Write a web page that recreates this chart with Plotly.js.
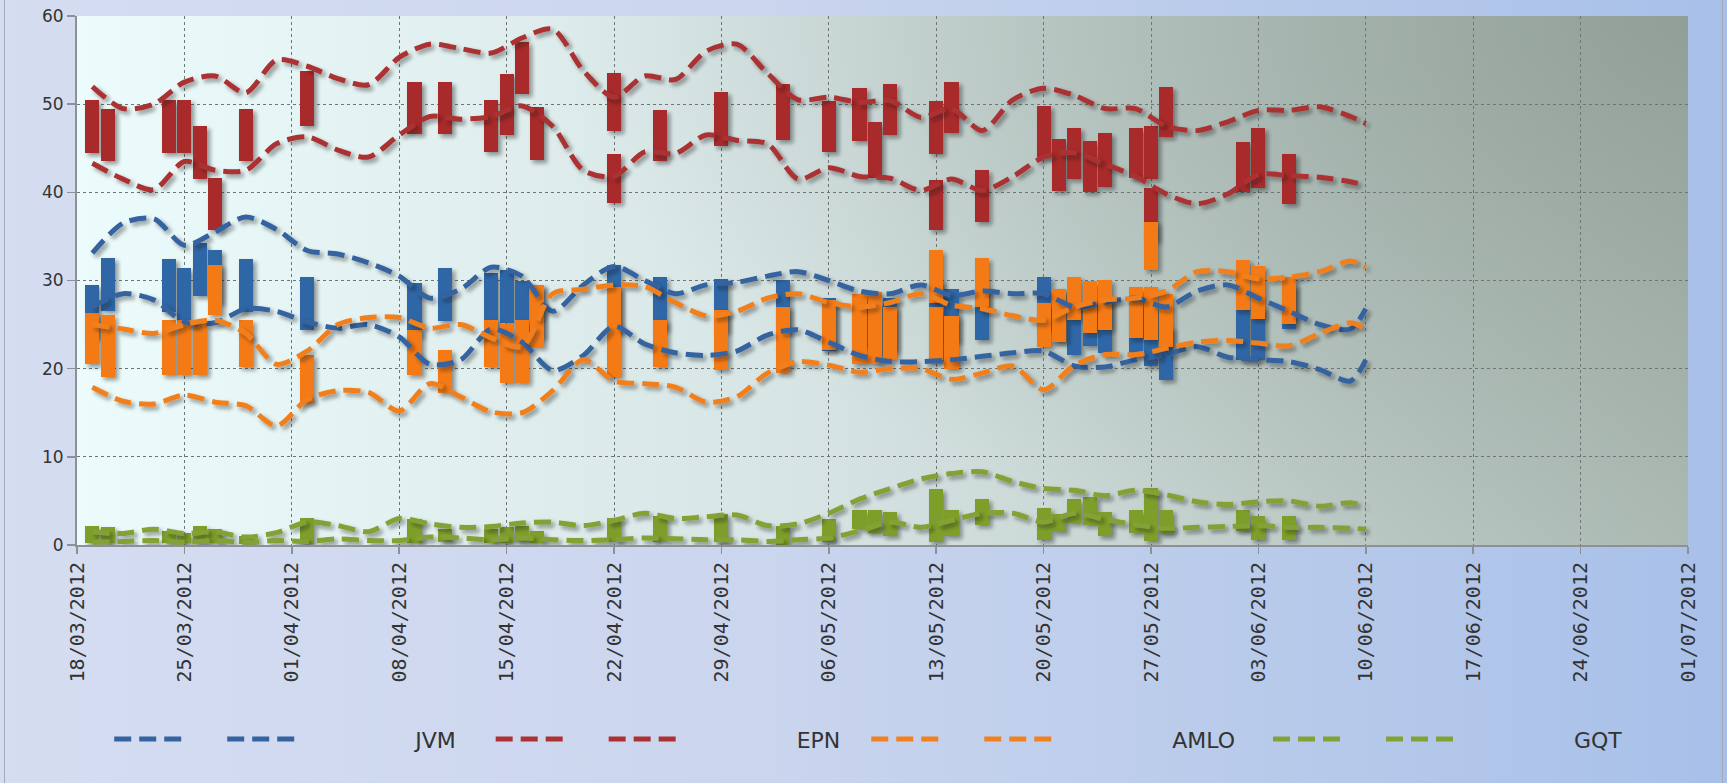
<!DOCTYPE html>
<html>
<head>
<meta charset="utf-8">
<script src="https://cdn.plot.ly/plotly-3.0.1.min.js"></script>
<style>
  html, body { margin: 0; padding: 0; }
  #wrap { position: relative; width: 1727px; height: 783px; overflow: hidden;
    background: linear-gradient(to right, #d5ddf1 0%, #cad5ee 45%, #b4c8ea 80%, #a8c0e9 100%); }
  #frame { position: absolute; left: 4px; top: 0; width: 1717px; height: 783px;
    border-left: 1px solid #a3abba; border-right: 1px solid #a3abba; }
  #pa { position: absolute; left: 77px; top: 16px; width: 1611px; height: 529px;
    background:
      radial-gradient(ellipse 70% 110% at 100% 0%, rgba(120,135,125,0.55) 0%, rgba(120,135,125,0) 100%),
      linear-gradient(to right, #ecfbfb 0%, #d6e4e4 45%, #bccac6 80%, #aebcb6 100%); }
  #chart { position: absolute; left: 0; top: 0; width: 1727px; height: 783px; }
  #chart .barlayer .trace, #chart .scatterlayer .trace { filter: url(#sh); }
</style>
</head>
<body>
<svg width="0" height="0" style="position:absolute">
  <defs>
    <filter id="sh" x="-10%" y="-10%" width="130%" height="130%">
      <feDropShadow dx="3" dy="3" stdDeviation="2.2" flood-color="#1a1a1a" flood-opacity="0.45"/>
    </filter>
  </defs>
</svg>
<div id="wrap">
  <div id="frame"></div>
  <div id="pa"></div>
  <div id="chart"></div>
</div>
<script>
// ---- Poll dates (one floating range bar per candidate per poll) ----
const pollDates = ['2012-03-19','2012-03-20','2012-03-24','2012-03-25','2012-03-26','2012-03-27','2012-03-29',
  '2012-04-02','2012-04-09','2012-04-11','2012-04-14','2012-04-15','2012-04-16','2012-04-17','2012-04-22',
  '2012-04-22','2012-04-25','2012-04-29','2012-05-03','2012-05-06','2012-05-08','2012-05-09','2012-05-10',
  '2012-05-13','2012-05-13','2012-05-14','2012-05-16','2012-05-20','2012-05-21','2012-05-22','2012-05-23',
  '2012-05-24','2012-05-26','2012-05-27','2012-05-27','2012-05-28','2012-06-02','2012-06-03','2012-06-05'];

// JVM (blue)
const jvmLow  = [23.5,26.5,26.4,25.4,28.2,27.5,26.4,24.4,23.7,25.4,24.8,25.2,24.0,23.5,25.8,24.0,24.4,24.2,24.1,22.0,
  22.5,21.5,22.0,24.0,21.0,23.0,23.3,24.4,23.0,21.5,22.6,21.8,21.4,21.0,20.3,18.7,21.0,21.0,24.5];
const jvmHigh = [29.5,32.5,32.4,31.4,34.2,33.5,32.4,30.4,29.7,31.4,30.8,31.2,30.0,29.5,31.8,30.0,30.4,30.2,30.1,28.0,
  28.5,27.5,28.0,30.0,27.0,29.0,29.3,30.4,29.0,27.5,27.9,27.8,27.4,27.0,26.3,24.7,27.0,27.0,29.5];
// EPN (red)
const epnLow  = [44.5,43.5,44.5,44.5,41.5,35.7,43.6,47.5,46.6,46.6,44.6,46.5,51.2,43.7,47.0,38.8,43.6,45.2,45.9,44.6,
  45.8,41.6,46.5,44.4,35.7,46.7,36.6,44.0,40.2,41.5,40.0,40.6,41.6,41.5,34.5,46.3,40.0,40.5,38.7];
const epnHigh = [50.5,49.5,50.5,50.5,47.5,41.6,49.5,53.8,52.5,52.5,50.5,53.4,57.0,49.7,53.5,44.3,49.3,51.4,52.3,50.4,
  51.8,48.0,52.3,50.4,41.4,52.5,42.5,49.8,46.0,47.3,45.8,46.7,47.3,47.5,40.5,52.0,45.7,47.3,44.4];
// AMLO (orange)
const amloLow  = [20.5,19.1,19.3,19.3,19.3,26.1,20.2,16.1,19.3,17.2,20.2,18.4,18.4,22.5,23.3,19.1,20.2,19.9,19.5,22.1,
  20.5,20.5,21.0,27.5,21.0,20.0,27.0,22.5,23.0,25.5,24.0,24.4,23.5,23.3,31.2,22.5,26.7,25.6,25.1];
const amloHigh = [26.3,26.1,25.5,25.5,25.3,31.8,25.5,21.6,24.4,22.1,25.5,25.1,25.5,29.5,29.3,25.1,25.5,26.7,27.0,27.8,
  28.5,28.7,27.0,33.5,27.0,26.0,32.5,27.4,29.0,30.4,30.0,30.1,29.3,29.3,36.6,28.5,32.3,31.6,30.4];
// GQT (green)
const gqtLow  = [0.2,0.2,0.2,0.2,0.3,0.2,0.1,0.1,0.2,0.3,0.2,0.2,0.3,0.2,0.3,0.3,0.3,0.3,0.0,0.3,
  1.8,1.4,1.0,3.5,0.3,1.0,2.3,0.6,1.5,2.5,2.3,1.0,1.4,0.5,2.0,1.2,1.6,0.6,0.6];
const gqtHigh = [2.2,2.0,1.6,1.4,2.2,1.8,1.0,3.1,3.0,1.8,1.8,2.0,2.2,1.6,3.1,2.0,3.3,3.5,2.1,2.9,
  4.0,4.0,3.7,6.3,3.5,4.0,5.2,4.2,3.5,5.2,5.4,3.7,4.0,3.5,6.5,4.0,4.0,3.3,3.3];

// ---- Envelope (dashed) lines ----
const lineDates = ['2012-03-19','2012-03-21','2012-03-23','2012-03-25','2012-03-27','2012-03-29','2012-03-31',
  '2012-04-02','2012-04-04','2012-04-06','2012-04-08','2012-04-10','2012-04-12','2012-04-14','2012-04-16',
  '2012-04-18','2012-04-20','2012-04-22','2012-04-24','2012-04-26','2012-04-28','2012-04-30','2012-05-02',
  '2012-05-04','2012-05-06','2012-05-08','2012-05-10','2012-05-12','2012-05-14','2012-05-16','2012-05-18',
  '2012-05-20','2012-05-22','2012-05-24','2012-05-26','2012-05-28','2012-05-30','2012-06-01','2012-06-03',
  '2012-06-05','2012-06-07','2012-06-09','2012-06-10'];
const jvmUpper = [33.1,36.5,37.0,34.0,35.5,37.2,35.8,33.4,33.0,32.0,30.5,28.0,29.0,31.5,30.5,26.5,29.5,31.6,30.0,28.5,
  29.5,29.8,30.5,31.0,30.0,28.8,28.5,29.5,28.3,28.8,28.5,28.5,27.0,27.5,28.0,27.0,28.8,29.5,28.0,26.5,25.0,24.5,26.8];
const jvmLower = [27.0,28.5,27.8,25.3,25.2,26.8,26.5,25.3,24.6,25.0,23.6,20.5,21.0,24.5,23.0,19.8,21.5,24.8,22.8,21.8,
  21.5,22.0,23.8,24.4,23.0,21.5,20.8,20.8,21.0,21.4,21.8,22.0,20.3,20.2,21.0,21.6,22.5,21.3,21.0,20.8,19.9,18.6,21.0];
const epnUpper = [52.0,49.5,50.0,52.5,53.2,51.3,55.0,54.3,52.9,52.2,55.3,56.8,56.3,55.8,57.5,58.5,53.8,50.8,53.2,52.8,
  56.0,56.8,53.5,50.5,50.8,50.2,50.4,48.5,49.5,47.0,50.5,51.8,51.0,49.5,49.5,47.5,47.0,48.0,49.3,49.3,49.7,48.6,47.8];
const epnLower = [43.3,41.5,40.3,43.5,42.5,42.5,45.5,46.3,44.8,44.0,46.5,48.6,48.3,48.6,49.8,47.5,42.5,41.8,44.6,44.4,
  46.5,45.9,45.5,41.5,42.8,41.8,41.6,40.2,41.5,40.2,41.8,44.0,44.5,43.2,41.8,39.8,38.7,39.8,42.0,41.9,41.7,41.2,40.8];
const amloUpper = [25.0,24.5,24.0,25.0,25.5,24.0,20.5,22.0,25.0,25.8,25.8,24.6,25.0,23.5,22.5,28.5,29.0,29.5,29.3,27.5,
  26.0,26.5,28.0,28.5,27.5,27.0,27.5,28.5,27.2,26.8,26.0,25.5,27.0,27.8,28.0,28.8,31.0,31.0,30.2,30.4,31.0,32.2,31.5];
const amloLower = [17.9,16.3,16.0,17.0,16.2,15.8,13.5,16.5,17.5,17.3,15.2,18.3,16.8,15.1,15.0,17.5,21.0,18.6,18.3,17.9,
  16.2,16.8,19.5,20.8,20.4,19.6,20.0,20.0,18.8,19.5,20.3,17.6,20.4,21.6,21.6,22.3,23.0,23.2,22.9,22.6,24.0,25.2,24.5];
const gqtUpper = [1.5,1.3,1.8,1.3,1.5,0.9,1.4,2.6,2.2,1.5,3.0,2.4,2.0,2.1,2.5,2.6,2.2,2.8,3.6,3.0,
  3.2,3.4,2.2,2.4,3.6,5.2,6.4,7.5,8.1,8.3,7.2,6.4,6.2,5.6,6.2,5.7,4.9,4.6,4.9,5.0,4.4,4.8,4.4];
const gqtLower = [0.3,0.4,0.5,0.3,0.5,0.3,0.5,0.4,0.7,0.5,0.5,0.9,0.8,0.6,0.8,0.6,0.5,0.6,0.8,0.7,
  0.6,0.6,0.4,0.6,0.8,1.6,2.6,2.0,2.8,3.6,3.6,2.6,3.6,2.9,2.3,1.9,2.0,2.1,2.2,2.0,2.0,1.9,1.8];

const candidates = ['JVM', 'EPN', 'AMLO', 'GQT'];
const tickStart = '2012-03-18';
const tickEnd = '2012-07-01';

// ---- styles ----
const DAY = 86400000;
const NB = '\u00a0';
const barColors  = ['#2f66a6', '#a8292b', '#f47a12', '#7d9f2c'];
const lineColors = ['#3563a0', '#ab3133', '#f1801f', '#82a234'];
const lows  = [jvmLow, epnLow, amloLow, gqtLow];
const highs = [jvmHigh, epnHigh, amloHigh, gqtHigh];
const uppers = [jvmUpper, epnUpper, amloUpper, gqtUpper];
const lowers = [jvmLower, epnLower, amloLower, gqtLower];
const labelPad = [4, 3, 4, 0];   // legend spacing (non-breaking spaces after each label)

const traces = [];
// bars (ranges)
for (let c = 0; c < 4; c++) {
  traces.push({
    type: 'bar', x: pollDates, base: lows[c],
    y: highs[c].map((h, i) => h - lows[c][i]),
    width: 0.92 * DAY,
    marker: { color: barColors[c], line: { width: 0 } },
    showlegend: false, hoverinfo: 'skip', name: candidates[c] + ' range'
  });
}
// dashed envelopes + legend labels
for (let c = 0; c < 4; c++) {
  [uppers[c], lowers[c]].forEach(arr => {
    traces.push({
      type: 'scatter', mode: 'lines', x: lineDates, y: arr, name: NB.repeat(4),
      line: { color: lineColors[c], width: 5, dash: '17px,8px', shape: 'spline', smoothing: 0.8 },
      hoverinfo: 'skip', showlegend: true
    });
  });
  // label-only legend entry (no visible mark)
  traces.push({
    type: 'scatter', mode: 'lines', x: [null], y: [null], name: candidates[c] + NB.repeat(labelPad[c]),
    line: { color: 'rgba(0,0,0,0)', width: 0 }, showlegend: true, hoverinfo: 'skip'
  });
}

const layout = {
  width: 1727, height: 783,
  margin: { l: 77, r: 39, t: 16, b: 238, pad: 0 },
  paper_bgcolor: 'rgba(0,0,0,0)', plot_bgcolor: 'rgba(0,0,0,0)',
  barmode: 'overlay', bargap: 0,
  font: { family: 'DejaVu Sans', color: '#383838' },
  xaxis: {
    type: 'date', range: [tickStart, tickEnd], tick0: tickStart, dtick: 7 * DAY,
    tickformat: '%d/%m/%Y', tickangle: -90,
    tickfont: { family: 'DejaVu Sans Mono', size: 20, color: '#333' },
    showgrid: true, gridcolor: '#6f7575', griddash: 'dot', gridwidth: 1,
    showline: true, linecolor: '#8d9096', linewidth: 2,
    ticks: 'outside', ticklen: 7, tickcolor: '#8d9096', tickwidth: 1.5,
    zeroline: false, fixedrange: true
  },
  yaxis: {
    range: [0, 60], dtick: 10, tick0: 0,
    tickfont: { family: 'DejaVu Sans', size: 17, color: '#333' },
    showgrid: true, gridcolor: '#6f7575', griddash: 'dot', gridwidth: 1,
    showline: true, linecolor: '#8d9096', linewidth: 2,
    ticks: 'outside', ticklen: 8, tickcolor: '#8d9096', tickwidth: 1.5,
    zeroline: false, fixedrange: true
  },
  legend: {
    orientation: 'h', x: 0.02, xanchor: 'left', y: -0.367, yanchor: 'middle',
    bgcolor: 'rgba(0,0,0,0)', itemwidth: 70, itemclick: false, itemdoubleclick: false,
    font: { family: 'DejaVu Sans', size: 22, color: '#333' }
  },
  showlegend: true
};

Plotly.newPlot('chart', traces, layout, { displayModeBar: false, staticPlot: true });
</script>
</body>
</html>
